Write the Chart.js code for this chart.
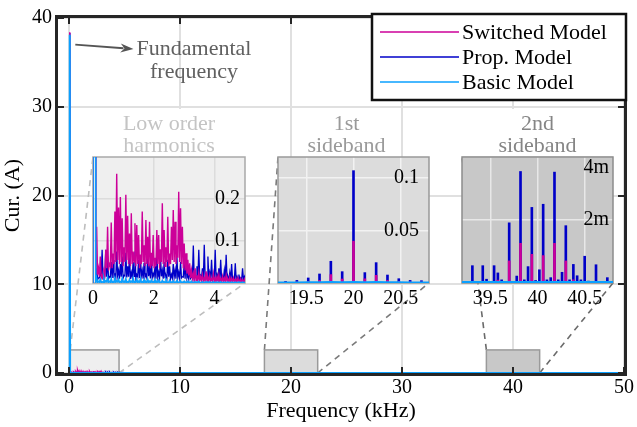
<!DOCTYPE html>
<html>
<head>
<meta charset="utf-8">
<script src="https://cdn.jsdelivr.net/npm/chart.js@4.4.1/dist/chart.umd.min.js"></script>
<style>
  html, body { margin: 0; padding: 0; background: #ffffff; }
  #wrap { position: relative; width: 637px; height: 427px; overflow: hidden; background: #ffffff; }
  #wrap canvas { position: absolute; left: 0; top: 0; }
</style>
</head>
<body>
<div id="wrap"><canvas id="main" width="637" height="427"></canvas></div>
<script>
// ---------------- spectrum data (current amplitude, A) ----------------
const f0 = 0.06; // fundamental frequency, kHz

// harmonic orders of the fundamental in the low-order range (0 = DC)
const lowOrders = [0,1,2,3,4,5,6,7,8,9,10,11,12,13,14,15,16,17,18,19,20,
  21,22,23,24,25,26,27,28,29,30,31,32,33,34,35,36,37,38,39,40,
  41,42,43,44,45,46,47,48,49,50,51,52,53,54,55,56,57,58,59,60,
  61,62,63,64,65,66,67,68,69,70,71,72,73,74,75,76,77,78,79,80,81,82,83];

// amplitude at each harmonic order
const lowSwitched = [0, 38.4,
  0.134,0.035,0.063,0.018,0.028,0.079,0.134,0.045,0.144,0.070,
  0.170,0.260,0.180,0.205,0.154,0.085,0.210,0.160,0.118,0.166,
  0.075,0.142,0.138,0.114,0.068,0.170,0.090,0.150,0.110,0.146,
  0.072,0.114,0.060,0.126,0.114,0.080,0.190,0.126,0.085,0.158,
  0.070,0.134,0.174,0.146,0.090,0.217,0.178,0.134,0.094,0.071,
  0.055,0.047,0.030,0.022,0.035,0.018,0.025,0.015,0.020,0.012,
  0.028,0.014,0.018,0.010,0.022,0.012,0.015,0.020,0.010,0.016,
  0.012,0.018,0.009,0.014,0.010,0.012,0.008,0.011,0.008,0.010,
  0.007,0.009];

const lowProp = [0, 38.3,
  0.035,0.012,0.028,0.079,0.020,0.079,0.063,0.015,0.050,0.055,
  0.020,0.075,0.030,0.045,0.063,0.018,0.072,0.040,0.063,0.025,
  0.050,0.075,0.020,0.055,0.063,0.030,0.048,0.020,0.067,0.035,
  0.058,0.022,0.040,0.070,0.025,0.063,0.030,0.050,0.018,0.055,
  0.040,0.020,0.045,0.030,0.063,0.025,0.050,0.015,0.045,0.055,
  0.020,0.035,0.015,0.089,0.020,0.040,0.079,0.018,0.035,0.091,
  0.020,0.063,0.025,0.055,0.015,0.079,0.020,0.035,0.055,0.012,
  0.030,0.067,0.015,0.025,0.045,0.010,0.047,0.015,0.020,0.012,
  0.035,0.015];

const lowBasic = [0, 38.1,
  0.012,0.004,0.009,0.003,0.011,0.005,0.013,0.004,0.010,0.003,
  0.012,0.005,0.009,0.003,0.011,0.004,0.010,0.003,0.008,0.004,
  0.011,0.003,0.009,0.004,0.010,0.003,0.008,0.003,0.009,0.004,
  0.007,0.003,0.008,0.003,0.007,0.002,0.006,0.003,0.007,0.002,
  0.006,0.002,0.005,0.002,0.006,0.002,0.005,0.002,0.004,0.002,
  0.004,0.002,0.004,0.001,0.003,0.002,0.004,0.001,0.003,0.001,
  0.003,0.002,0.003,0.001,0.003,0.001,0.002,0.001,0.003,0.001,
  0.002,0.001,0.002,0.001,0.002,0.001,0.002,0.001,0.002,0.001,
  0.002,0.001];

// amplitude midway between consecutive harmonics (orders 1.5 ... 83.5)
const midSwitched = [
  0.010,0.020,0.015,0.012,0.010,0.020,0.035,0.030,0.040,0.035,
  0.045,0.050,0.055,0.045,0.050,0.040,0.050,0.055,0.045,0.040,
  0.045,0.050,0.040,0.045,0.035,0.045,0.050,0.040,0.045,0.040,
  0.035,0.040,0.035,0.040,0.045,0.035,0.050,0.045,0.040,0.050,
  0.040,0.045,0.055,0.050,0.045,0.060,0.050,0.045,0.035,0.030,
  0.022,0.018,0.012,0.010,0.008,0.006,0.007,0.005,0.006,0.005,
  0.006,0.004,0.005,0.004,0.005,0.004,0.005,0.004,0.004,0.003,
  0.004,0.003,0.004,0.003,0.003,0.003,0.003,0.002,0.003,0.002,
  0.002,0.002,0.002];

const midProp = [
  0.010,0.008,0.012,0.015,0.010,0.018,0.015,0.010,0.014,0.012,
  0.016,0.012,0.018,0.010,0.015,0.012,0.017,0.013,0.015,0.010,
  0.014,0.016,0.011,0.015,0.012,0.017,0.010,0.014,0.012,0.016,
  0.011,0.013,0.015,0.010,0.014,0.012,0.016,0.010,0.013,0.011,
  0.015,0.010,0.012,0.014,0.010,0.013,0.011,0.012,0.014,0.010,
  0.012,0.009,0.011,0.013,0.010,0.012,0.009,0.011,0.013,0.010,
  0.011,0.009,0.012,0.010,0.008,0.011,0.009,0.010,0.008,0.009,
  0.010,0.008,0.009,0.007,0.009,0.008,0.007,0.008,0.007,0.008,
  0.007,0.008,0.006];

const midBasic = [
  0.003,0.002,0.002,0.001,0.002,0.002,0.003,0.002,0.002,0.001,
  0.002,0.002,0.003,0.001,0.002,0.002,0.002,0.001,0.002,0.002,
  0.002,0.001,0.002,0.002,0.001,0.002,0.001,0.002,0.001,0.002,
  0.001,0.002,0.001,0.001,0.002,0.001,0.001,0.002,0.001,0.001,
  0.001,0.001,0.002,0.001,0.001,0.001,0.001,0.001,0.001,0.001,
  0.001,0.001,0.001,0.001,0.001,0.001,0.001,0.001,0.001,0.001,
  0.001,0.001,0.001,0.001,0.001,0.001,0.001,0.001,0.001,0.001,
  0.001,0.001,0.001,0.001,0.001,0.001,0.001,0.001,0.001,0.001,
  0.001,0.001,0.001];

// first carrier group (around 20 kHz)
const sb1Freq     = [19.28, 19.40, 19.52, 19.64, 19.76, 19.88, 20.00, 20.12, 20.24, 20.36, 20.48, 20.60, 20.72];
const sb1Prop     = [0.0016,0.0025,0.0048,0.0086,0.0207,0.0108,0.1070,0.0099,0.0194,0.0076,0.0041,0.0025,0.0022];
const sb1Switched = [0.0008,0.0010,0.0015,0.0025,0.0080,0.0038,0.0398,0.0040,0.0073,0.0025,0.0015,0.0010,0.0008];
const sb1Basic    = [0.0003,0.0003,0.0004,0.0005,0.0006,0.0005,0.0008,0.0005,0.0006,0.0005,0.0004,0.0003,0.0003];

// second carrier group (around 40 kHz)
const sb2Freq     = [39.31, 39.42, 39.46, 39.54, 39.58, 39.62, 39.70, 39.78, 39.82, 39.86,
                     39.90, 39.94, 39.98, 40.02, 40.06, 40.10, 40.14, 40.18, 40.22, 40.26,
                     40.30, 40.34, 40.38, 40.42, 40.46, 40.50, 40.54, 40.62, 40.74];
const sb2Prop     = [0.00055,0.00055,0.00012,0.00055,0.00032,0.00010,0.00191,0.00022,0.00354,0.00010,
                     0.00052,0.00240,0.00008,0.00042,0.00250,0.00010,0.00017,0.00352,0.00010,0.00034,
                     0.00182,0.00010,0.00059,0.00023,0.00010,0.00085,0.00006,0.00058,0.00017];
const sb2Switched = [0.00003,0.00003,0.00002,0.00003,0.00009,0.00002,0.00070,0.00003,0.00126,0.00002,
                     0.00004,0.00091,0.00002,0.00004,0.00087,0.00002,0.00003,0.00126,0.00002,0.00004,
                     0.00070,0.00002,0.00010,0.00005,0.00002,0.00003,0.00002,0.00003,0.00002];
const sb2Basic    = [0.00002,0.00002,0.00002,0.00002,0.00002,0.00002,0.00002,0.00002,0.00002,0.00002,
                     0.00002,0.00002,0.00002,0.00002,0.00002,0.00002,0.00002,0.00002,0.00002,0.00002,
                     0.00002,0.00002,0.00002,0.00002,0.00002,0.00002,0.00002,0.00002,0.00002];

// end of the analysed band
const tailFreq     = [50];
const tailSwitched = [0.0005];
const tailProp     = [0.0005];
const tailBasic    = [0.0003];

// axis ticks
const mainXTicks = [0, 10, 20, 30, 40, 50];
const mainYTicks = [0, 10, 20, 30, 40];
const insetXTicks = [[0, 2, 4], [19.5, 20, 20.5], [39.5, 40, 40.5]];
const insetYTicks = [[0.1, 0.2], [0.05, 0.1], [0.002, 0.004]];
const insetYLabels = [['0.1', '0.2'], ['0.05', '0.1'], ['2m', '4m']];
const insetXRange = [[0, 5], [19.2, 20.8], [39.2, 40.8]];
const insetYMax = [0.3, 0.12, 0.004];
const insetTitles = [['Low order', 'harmonics'], ['1st', 'sideband'], ['2nd', 'sideband']];

// highlighted frequency windows on the main axes: [from kHz, to kHz, height A]
const zoomWindows = [[0.1, 4.5, 2.6], [17.6, 22.4, 2.6], [37.6, 42.4, 2.6]];

// ---------------- styling / layout ----------------
const FONT = "'Liberation Serif','Times New Roman',serif";
const COL = { sw: '#cc0099', prop: '#0000c8', basic: '#0aa0ff' };
const insetBoxes = [
  { left: 93,  top: 157, right: 245, bottom: 283 },
  { left: 278, top: 157, right: 429, bottom: 283 },
  { left: 462, top: 157, right: 613, bottom: 283 }
];
const insetStyle = [
  { bg: '#efefef', grid: '#dcdcdc', link: '#bdbdbd', frame: '#a9a9a9', title: '#c4c4c4', titleDx: 0,  labelInset: 5 },
  { bg: '#dcdcdc', grid: '#f2f2f2', link: '#7a7a7a', frame: '#999999', title: '#9a9a9a', titleDx: -7, labelInset: 10 },
  { bg: '#c8c8c8', grid: '#e8e8e8', link: '#6a6a6a', frame: '#8c8c8c', title: '#858585', titleDx: 0,  labelInset: 4 }
];
const PAD = { l: 22, r: 26, t: 2, b: 30 };

Chart.defaults.font.family = FONT;

// ---------------- build series ----------------
function fullSeries(lowVals, midVals, sbA, sbB, tail) {
  const pts = [];
  lowOrders.forEach((h, i) => {
    pts.push({ x: h * f0, y: lowVals[i] });
    if (i >= 1) pts.push({ x: (h + 0.5) * f0, y: midVals[i - 1] });
  });
  sb1Freq.forEach((f, i) => pts.push({ x: f, y: sbA[i] }));
  sb2Freq.forEach((f, i) => pts.push({ x: f, y: sbB[i] }));
  tailFreq.forEach((f, i) => pts.push({ x: f, y: tail[i] }));
  return pts;
}
const switchedSeries = fullSeries(lowSwitched, midSwitched, sb1Switched, sb2Switched, tailSwitched);
const propSeries     = fullSeries(lowProp, midProp, sb1Prop, sb2Prop, tailProp);
const basicSeries    = fullSeries(lowBasic, midBasic, sb1Basic, sb2Basic, tailBasic);

// ---------------- main axes decorations ----------------
const mainDecor = {
  id: 'mainDecor',
  beforeDatasetsDraw(chart) {
    const { ctx, chartArea: a, scales: { x, y } } = chart;
    ctx.save();
    zoomWindows.forEach((w, i) => {
      const x0 = x.getPixelForValue(w[0]), x1 = x.getPixelForValue(w[1]);
      const yb = y.getPixelForValue(0), yt = y.getPixelForValue(w[2]);
      const b = insetBoxes[i], st = insetStyle[i];
      ctx.setLineDash([6, 5]);
      ctx.strokeStyle = st.link;
      ctx.lineWidth = 1.6;
      ctx.beginPath();
      ctx.moveTo(x0, yt); ctx.lineTo(b.left, b.top);
      ctx.moveTo(x1, yb); ctx.lineTo(b.right, b.bottom);
      ctx.stroke();
      ctx.setLineDash([]);
      ctx.fillStyle = st.bg;
      ctx.fillRect(x0, yt, x1 - x0, yb - yt);
      ctx.strokeStyle = '#9a9a9a';
      ctx.lineWidth = 1.5;
      ctx.strokeRect(x0, yt, x1 - x0, yb - yt);
    });
    // axes box, drawn just outside the plotting area
    ctx.strokeStyle = '#262626';
    ctx.lineWidth = 3;
    ctx.strokeRect(a.left - 1.5, a.top - 1.5, a.right - a.left + 3, a.bottom - a.top + 3);
    ctx.restore();
  },
  afterDatasetsDraw(chart) {
    const { ctx, chartArea: a, scales: { x, y } } = chart;
    ctx.save();
    // inward tick marks
    ctx.strokeStyle = '#262626';
    ctx.lineWidth = 2;
    ctx.beginPath();
    mainXTicks.forEach(v => {
      const px = Math.round(x.getPixelForValue(v));
      ctx.moveTo(px, a.bottom); ctx.lineTo(px, a.bottom - 6);
      ctx.moveTo(px, a.top); ctx.lineTo(px, a.top + 6);
    });
    mainYTicks.forEach(v => {
      const py = Math.round(y.getPixelForValue(v));
      ctx.moveTo(a.left, py); ctx.lineTo(a.left + 6, py);
      ctx.moveTo(a.right, py); ctx.lineTo(a.right - 6, py);
    });
    ctx.stroke();

    // annotation of the fundamental
    const ax0 = x.getPixelForValue(f0 + 0.5), ay0 = y.getPixelForValue(37.0);
    const ax1 = x.getPixelForValue(5.8), ay1 = y.getPixelForValue(36.5);
    ctx.strokeStyle = '#555555';
    ctx.fillStyle = '#555555';
    ctx.lineWidth = 2;
    const ang = Math.atan2(ay1 - ay0, ax1 - ax0);
    ctx.beginPath();
    ctx.moveTo(ax0, ay0);
    ctx.lineTo(ax1 - 10 * Math.cos(ang), ay1 - 10 * Math.sin(ang));
    ctx.stroke();
    ctx.beginPath();
    ctx.moveTo(ax1, ay1);
    ctx.lineTo(ax1 - 13 * Math.cos(ang) + 4.5 * Math.sin(ang), ay1 - 13 * Math.sin(ang) - 4.5 * Math.cos(ang));
    ctx.lineTo(ax1 - 9 * Math.cos(ang), ay1 - 9 * Math.sin(ang));
    ctx.lineTo(ax1 - 13 * Math.cos(ang) - 4.5 * Math.sin(ang), ay1 - 13 * Math.sin(ang) + 4.5 * Math.cos(ang));
    ctx.closePath();
    ctx.fill();
    ctx.font = '22px ' + FONT;
    ctx.fillStyle = '#606060';
    ctx.textAlign = 'center';
    ctx.textBaseline = 'middle';
    const tx = x.getPixelForValue(11.25), ty = y.getPixelForValue(36.5);
    ctx.fillText('Fundamental', tx, ty);
    ctx.fillText('frequency', tx, ty + 23);

    // titles above the zoomed views, on a white text box
    insetBoxes.forEach((b, i) => {
      const st = insetStyle[i];
      const cx = (b.left + b.right) / 2 + st.titleDx;
      const tw = Math.max(ctx.measureText(insetTitles[i][0]).width, ctx.measureText(insetTitles[i][1]).width) + 8;
      ctx.fillStyle = '#ffffff';
      ctx.fillRect(cx - tw / 2, b.top - 48, tw, 47);
      ctx.fillStyle = st.title;
      ctx.fillText(insetTitles[i][0], cx, b.top - 33);
      ctx.fillText(insetTitles[i][1], cx, b.top - 11);
    });

    // legend
    const L = { left: 372, top: 14, right: 626, bottom: 100 };
    ctx.fillStyle = '#ffffff';
    ctx.fillRect(L.left, L.top, L.right - L.left, L.bottom - L.top);
    ctx.strokeStyle = '#111111';
    ctx.lineWidth = 2.5;
    ctx.strokeRect(L.left, L.top, L.right - L.left, L.bottom - L.top);
    const rows = [32, 57, 82];
    chart.data.datasets.forEach((ds, i) => {
      ctx.strokeStyle = ds.borderColor;
      ctx.lineWidth = 1.5;
      ctx.beginPath();
      ctx.moveTo(L.left + 8, rows[i]);
      ctx.lineTo(L.left + 87, rows[i]);
      ctx.stroke();
      ctx.fillStyle = '#000000';
      ctx.textAlign = 'left';
      ctx.fillText(ds.label, L.left + 90, rows[i] + 1);
    });
    ctx.restore();
  }
};

new Chart(document.getElementById('main'), {
  type: 'line',
  data: {
    datasets: [
      { label: 'Switched Model', data: switchedSeries, borderColor: COL.sw, borderWidth: 1.5, order: 1 },
      { label: 'Prop. Model', data: propSeries, borderColor: COL.prop, borderWidth: 1.5, order: 2 },
      { label: 'Basic Model', data: basicSeries, borderColor: COL.basic, borderWidth: 2, order: 0 }
    ]
  },
  options: {
    responsive: false,
    animation: false,
    events: [],
    elements: { point: { radius: 0 }, line: { tension: 0 } },
    layout: { padding: { left: 0, top: 14, right: 10, bottom: 0 } },
    plugins: { legend: { display: false }, tooltip: { enabled: false } },
    scales: {
      x: {
        type: 'linear', min: -1, max: 50,
        afterBuildTicks: s => { s.ticks = mainXTicks.map(v => ({ value: v })); },
        afterFit: s => { s.height = 54; },
        grid: { color: '#e0e0e0', lineWidth: 2, drawTicks: false },
        border: { display: false },
        ticks: { font: { size: 20 }, color: '#000', padding: 3, maxRotation: 0, autoSkip: false,
                 callback: v => String(v) },
        title: { display: true, text: 'Frequency (kHz)', font: { size: 22 }, color: '#000',
                 padding: { top: 0, bottom: 3 } }
      },
      y: {
        type: 'linear', min: 0, max: 40,
        afterBuildTicks: s => { s.ticks = mainYTicks.map(v => ({ value: v })); },
        afterFit: s => { s.width = 58; },
        grid: { color: '#e0e0e0', lineWidth: 2, drawTicks: false },
        border: { display: false },
        ticks: { font: { size: 20 }, color: '#000', padding: 6, callback: v => String(v) },
        title: { display: true, text: 'Cur. (A)', font: { size: 22 }, color: '#000',
                 padding: { top: 0, bottom: 0 } }
      }
    }
  },
  plugins: [mainDecor]
});

// ---------------- zoomed views ----------------
const insetDecor = {
  id: 'insetDecor',
  beforeDraw(chart, args, o) {
    const { ctx, chartArea: a } = chart;
    ctx.save();
    ctx.fillStyle = o.bg;
    ctx.fillRect(a.left, a.top, a.right - a.left, a.bottom - a.top);
    ctx.restore();
  },
  beforeDatasetsDraw(chart, args, o) {
    const { ctx, chartArea: a } = chart;
    ctx.save();
    ctx.strokeStyle = o.frame;
    ctx.lineWidth = 1.5;
    ctx.strokeRect(a.left, a.top, a.right - a.left, a.bottom - a.top);
    ctx.restore();
  },
  afterDraw(chart, args, o) {
    const { ctx, chartArea: a, scales: { y } } = chart;
    ctx.save();
    ctx.font = '20px ' + FONT;
    ctx.fillStyle = '#000';
    ctx.textAlign = 'right';
    ctx.textBaseline = 'middle';
    o.ticks.forEach((v, k) => {
      const py = Math.max(y.getPixelForValue(v), a.top + 11);
      ctx.fillText(o.labels[k], a.right - o.labelInset, py);
    });
    ctx.restore();
  }
};

const wrap = document.getElementById('wrap');

function makeInset(i, datasets) {
  const b = insetBoxes[i], st = insetStyle[i];
  const W = b.right - b.left + PAD.l + PAD.r;
  const H = b.bottom - b.top + PAD.t + PAD.b;
  const cv = document.createElement('canvas');
  cv.width = W; cv.height = H;
  cv.style.left = (b.left - PAD.l) + 'px';
  cv.style.top = (b.top - PAD.t) + 'px';
  cv.style.width = W + 'px';
  cv.style.height = H + 'px';
  wrap.appendChild(cv);
  new Chart(cv, {
    type: 'line',
    data: { datasets },
    options: {
      responsive: false,
      animation: false,
      events: [],
      elements: { point: { radius: 0 }, line: { tension: 0 } },
      layout: { padding: { left: PAD.l, right: PAD.r, top: PAD.t, bottom: 0 } },
      plugins: {
        legend: { display: false }, tooltip: { enabled: false },
        insetDecor: { bg: st.bg, frame: st.frame, ticks: insetYTicks[i], labels: insetYLabels[i], labelInset: st.labelInset }
      },
      scales: {
        x: {
          type: 'linear', min: insetXRange[i][0], max: insetXRange[i][1], offset: false,
          afterBuildTicks: s => { s.ticks = insetXTicks[i].map(v => ({ value: v })); },
          afterFit: s => { s.height = PAD.b; },
          grid: { color: st.grid, lineWidth: 1.5, drawTicks: false, offset: false },
          border: { display: false },
          ticks: { font: { size: 20 }, color: '#000', padding: 4, maxRotation: 0, autoSkip: false,
                   callback: v => String(v) }
        },
        y: {
          type: 'linear', position: 'right', min: 0, max: insetYMax[i],
          afterBuildTicks: s => { s.ticks = insetYTicks[i].map(v => ({ value: v })); },
          afterFit: s => { s.width = 0; },
          grid: { color: st.grid, lineWidth: 1.5, drawTicks: false },
          border: { display: false },
          ticks: { display: false }
        }
      }
    },
    plugins: [insetDecor]
  });
}

// low-order harmonics: full spectra as lines
makeInset(0, [
  { label: 'Switched Model', data: switchedSeries, borderColor: COL.sw, borderWidth: 1.4, order: 1 },
  { label: 'Prop. Model', data: propSeries, borderColor: COL.prop, borderWidth: 1.3, order: 2 },
  { label: 'Basic Model', data: basicSeries, borderColor: COL.basic, borderWidth: 1.6, order: 0 }
]);

// carrier groups: sideband lines as stems
function sidebandSets(freq, sw, prop) {
  return [
    { type: 'bar', label: 'Switched Model', data: freq.map((f, k) => ({ x: f, y: sw[k] })),
      backgroundColor: COL.sw, barThickness: 2, grouped: false, order: 1 },
    { type: 'bar', label: 'Prop. Model', data: freq.map((f, k) => ({ x: f, y: prop[k] })),
      backgroundColor: COL.prop, barThickness: 2, grouped: false, order: 2 },
    { type: 'line', label: 'Basic Model', data: basicSeries, borderColor: COL.basic, borderWidth: 2.5, order: 0 }
  ];
}
makeInset(1, sidebandSets(sb1Freq, sb1Switched, sb1Prop));
makeInset(2, sidebandSets(sb2Freq, sb2Switched, sb2Prop));
</script>
</body>
</html>
